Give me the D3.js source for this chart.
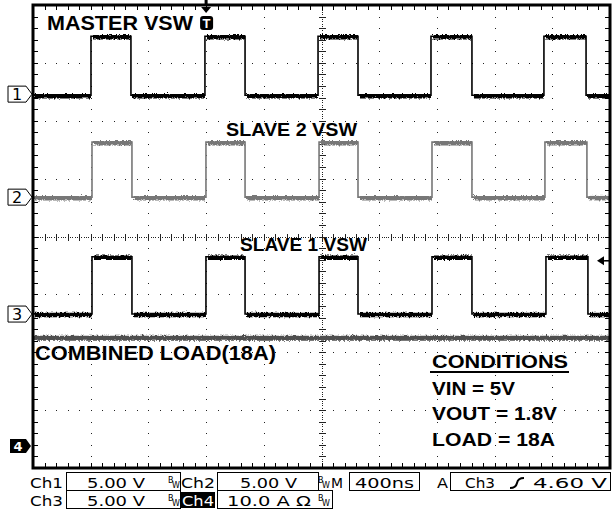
<!DOCTYPE html>
<html><head><meta charset="utf-8">
<script src="https://cdn.jsdelivr.net/npm/d3@7"></script>
<style>html,body{margin:0;padding:0;background:#fff;}svg{display:block;}</style>
</head><body><div id="chart"></div>
<script>
// ---------------- DATA ----------------
const timePerDivNs = 400;          // M 400ns
const hDivs = 10, vDivs = 8;
// channel 1 MASTER VSW (V)
const ch1RiseNs = [402, 1192, 1976, 2759, 3542];
const ch1FallNs = [679, 1470, 2253, 3043, 3834];
const ch1HighV = 5.0, ch1LowV = -0.1;
// channel 2 SLAVE 2 VSW (V)
const ch2RiseNs = [409, 1199, 1983, 2766, 3549];
const ch2FallNs = [686, 1470, 2253, 3043, 3840];
const ch2HighV = 4.75, ch2LowV = 0.0;
// channel 3 SLAVE 1 VSW (V)
const ch3RiseNs = [409, 1199, 1983, 2766, 3556];
const ch3FallNs = [686, 1470, 2253, 3043, 3847];
const ch3HighV = 4.95, ch3LowV = 0.0;
// channel 4 combined load current (A)
const ch4LoadA = 18.8;
// channel settings
const chNames = ["1", "2", "3", "4"];
const chOffsetDiv = [6.46, 4.68, 2.66, 0.38];
const chScale = [5, 5, 5, 10];     // V/div, V/div, V/div, A/div
const trigLevelV = 4.60, trigTimeNs = 1200;
// labels
const traceLabels = ["MASTER VSW", "SLAVE 2 VSW", "SLAVE 1 VSW", "COMBINED LOAD(18A)"];
const condTitle = "CONDITIONS";
const condLines = ["VIN = 5V", "VOUT = 1.8V", "LOAD = 18A"];
const row1Labels = ["Ch1", "5.00 V", "Ch2", "5.00 V", "M", "400ns", "A", "Ch3", "4.60 V"];
const row2Labels = ["Ch3", "5.00 V", "Ch4", "10.0 A \u03A9"];

// ---------------- LAYOUT ----------------
const W = 612, H = 515;
const L = 33, R = 610, T = 5, B = 468;
const svg = d3.select("#chart").append("svg").attr("width", W).attr("height", H);
svg.append("rect").attr("width", W).attr("height", H).attr("fill", "#fff");

const defs = svg.append("defs");
const f = defs.append("filter").attr("id", "fuzz").attr("filterUnits", "userSpaceOnUse")
  .attr("x", 0).attr("y", 0).attr("width", W).attr("height", H);
f.append("feTurbulence").attr("type", "turbulence").attr("baseFrequency", "0.9 0.5")
  .attr("numOctaves", 2).attr("seed", 7).attr("result", "n");
f.append("feDisplacementMap").attr("in", "SourceGraphic").attr("in2", "n")
  .attr("scale", 3).attr("xChannelSelector", "R").attr("yChannelSelector", "G");

const x = d3.scaleLinear().domain([0, hDivs * timePerDivNs]).range([L, R]);
const yDiv = d3.scaleLinear().domain([0, vDivs]).range([B, T]);
const divW = (R - L) / hDivs, divH = (B - T) / vDivs;

// ---- graticule ----
const g = svg.append("g");
const dotC = "#222";
for (let i = 1; i < hDivs; i++) {
  if (i === hDivs / 2) continue;
  const xx = Math.round(L + i * divW);
  for (let k = 1; k < vDivs * 5; k++) {
    g.append("rect").attr("x", xx).attr("y", Math.round(T + k * divH / 5)).attr("width", 1).attr("height", 1).attr("fill", dotC);
  }
}
for (let j = 1; j < vDivs; j++) {
  if (j === vDivs / 2) continue;
  const yy = Math.round(T + j * divH);
  for (let k = 1; k < hDivs * 5; k++) {
    g.append("rect").attr("x", Math.round(L + k * divW / 5)).attr("y", yy).attr("width", 1).attr("height", 1).attr("fill", dotC);
  }
}
const cx = Math.round(L + 5 * divW), cy = Math.round(T + 4 * divH);
for (let k = 1; k < vDivs * 25; k++) {
  g.append("rect").attr("x", cx).attr("y", Math.round(T + k * divH / 25)).attr("width", 1).attr("height", 1).attr("fill", dotC);
}
for (let k = 1; k < hDivs * 25; k++) {
  g.append("rect").attr("x", Math.round(L + k * divW / 25)).attr("y", cy).attr("width", 1).attr("height", 1).attr("fill", dotC);
}
for (let k = 1; k < vDivs * 5; k++) {
  g.append("rect").attr("x", cx - 3).attr("y", Math.round(T + k * divH / 5)).attr("width", 7).attr("height", 1).attr("fill", dotC);
}
for (let k = 1; k < hDivs * 5; k++) {
  g.append("rect").attr("x", Math.round(L + k * divW / 5)).attr("y", cy - 3).attr("width", 1).attr("height", 7).attr("fill", dotC);
}
for (let k = 1; k < hDivs * 5; k++) {
  const xx = Math.round(L + k * divW / 5);
  g.append("rect").attr("x", xx).attr("y", T).attr("width", 1).attr("height", 5).attr("fill", "#000");
  g.append("rect").attr("x", xx).attr("y", B - 5).attr("width", 1).attr("height", 5).attr("fill", "#000");
}
for (let k = 1; k < vDivs * 5; k++) {
  const yy = Math.round(T + k * divH / 5);
  g.append("rect").attr("x", L).attr("y", yy).attr("width", 5).attr("height", 1).attr("fill", "#000");
  g.append("rect").attr("x", R - 5).attr("y", yy).attr("width", 5).attr("height", 1).attr("fill", "#000");
}

// ---- traces ----
function chY(ci, v) { return yDiv(chOffsetDiv[ci] + v / chScale[ci]); }
function squarePts(rise, fall, hi, lo) {
  const pts = [[0, lo]];
  rise.forEach((r, i) => {
    pts.push([r, lo], [r, hi]);
    if (fall[i] !== undefined) pts.push([fall[i], hi], [fall[i], lo]);
  });
  pts.push([hDivs * timePerDivNs, pts[pts.length - 1][1]]);
  return pts;
}
const traces = [
  {ci: 0, pts: squarePts(ch1RiseNs, ch1FallNs, ch1HighV, ch1LowV), color: "#000"},
  {ci: 1, pts: squarePts(ch2RiseNs, ch2FallNs, ch2HighV, ch2LowV), color: "#777"},
  {ci: 2, pts: squarePts(ch3RiseNs, ch3FallNs, ch3HighV, ch3LowV), color: "#000"}
];
const tg = svg.append("g");
traces.forEach(tr => {
  const line = d3.line().x(d => x(d[0])).y(d => chY(tr.ci, d[1]));
  tg.append("path").attr("d", line(tr.pts)).attr("fill", "none").attr("stroke", tr.color).attr("stroke-width", 1.6);
  const pg = tg.append("g").attr("filter", "url(#fuzz)");
  for (let i = 0; i < tr.pts.length - 1; i++) {
    const a = tr.pts[i], b = tr.pts[i + 1];
    if (a[1] === b[1] && b[0] > a[0]) {
      pg.append("line").attr("x1", x(a[0]) + 1).attr("x2", x(b[0]) - 1)
        .attr("y1", chY(tr.ci, a[1])).attr("y2", chY(tr.ci, b[1]))
        .attr("stroke", tr.color).attr("stroke-width", 4.5);
    }
  }
});
tg.append("line").attr("x1", x(0)).attr("x2", x(hDivs * timePerDivNs))
  .attr("y1", chY(3, ch4LoadA)).attr("y2", chY(3, ch4LoadA))
  .attr("stroke", "#505050").attr("stroke-width", 5).attr("filter", "url(#fuzz)");

// border
svg.append("rect").attr("x", L).attr("y", T).attr("width", R - L).attr("height", B - T)
  .attr("fill", "none").attr("stroke", "#000").attr("stroke-width", 3);

// ---- channel markers ----
const mk = svg.append("g");
chNames.forEach((n, i) => {
  const yy = chY(i, 0);
  if (i < 3) {
    mk.append("path").attr("d", `M8,${yy - 8}H26L32,${yy}L26,${yy + 8}H8Z`)
      .attr("fill", "#fff").attr("stroke", "#000").attr("stroke-width", 1);
    mk.append("text").attr("x", 17).attr("y", yy + 6).attr("text-anchor", "middle")
      .attr("font-family", "DejaVu Sans").attr("font-size", 16).text(n);
  } else {
    mk.append("path").attr("d", `M10,${yy - 7}H26L31,${yy}L26,${yy + 7}H10Z`).attr("fill", "#000");
    mk.append("text").attr("x", 18).attr("y", yy + 5).attr("text-anchor", "middle").attr("fill", "#fff")
      .attr("font-family", "DejaVu Sans").attr("font-weight", "bold").attr("font-size", 13).text(n);
  }
});
const tx = x(trigTimeNs);
mk.append("rect").attr("x", tx - 1.5).attr("y", 0).attr("width", 3).attr("height", 4).attr("fill", "#000");
mk.append("path").attr("d", `M${tx - 5},7L${tx + 5},7L${tx},13Z`).attr("fill", "#000");
mk.append("rect").attr("x", tx - 6).attr("y", 16).attr("width", 13).attr("height", 14).attr("rx", 3).attr("fill", "#000");
mk.append("text").attr("x", tx + 0.5).attr("y", 28).attr("text-anchor", "middle").attr("fill", "#fff")
  .attr("font-family", "Liberation Sans").attr("font-weight", "bold").attr("font-size", 13).text("T");
const ty = chY(2, trigLevelV);
mk.append("path").attr("d", `M597,${ty}L604,${ty - 4.5}L604,${ty + 4.5}Z`).attr("fill", "#000");
mk.append("rect").attr("x", 603).attr("y", ty - 0.75).attr("width", 6).attr("height", 1.5).attr("fill", "#000");

// ---- labels ----
const lab = svg.append("g").attr("font-family", "Liberation Sans, Arial, sans-serif").attr("font-weight", "bold");
function bold(t, xx, yy, w, fs) {
  lab.append("text").attr("x", xx).attr("y", yy).attr("font-size", fs)
    .attr("textLength", w).attr("lengthAdjust", "spacingAndGlyphs").text(t);
}
bold(traceLabels[0], 47, 30, 146, 21);
bold(traceLabels[1], 226, 136, 131, 19);
bold(traceLabels[2], 240, 251, 127, 19);
bold(traceLabels[3], 35, 360, 241, 21);
bold(condTitle, 432, 368, 136, 19);
lab.append("rect").attr("x", 430).attr("y", 371).attr("width", 139).attr("height", 2).attr("fill", "#000");
bold(condLines[0], 432, 395, 83, 19);
bold(condLines[1], 432, 420, 125, 19);
bold(condLines[2], 432, 446, 123, 19);

// ---- status bar ----
const st = svg.append("g").attr("font-family", "DejaVu Sans, sans-serif").attr("font-size", 14.5);
function stext(t, xx, yy, w, fill) {
  st.append("text").attr("x", xx).attr("y", yy).attr("fill", fill || "#000")
    .attr("textLength", w).attr("lengthAdjust", "spacingAndGlyphs").text(t);
}
function sbox(x0, x1, y0, y1) {
  st.append("rect").attr("x", x0 + 0.5).attr("y", y0 + 0.5).attr("width", x1 - x0).attr("height", y1 - y0)
    .attr("fill", "none").attr("stroke", "#000").attr("stroke-width", 1);
}
function bw(xx, yy) {
  st.append("text").attr("x", xx).attr("y", yy - 5).attr("font-size", 8).text("B");
  st.append("text").attr("x", xx + 4).attr("y", yy).attr("font-size", 8).text("W");
}
const r1 = 488, r2 = 506;
stext(row1Labels[0], 30, r1, 33);
sbox(66, 180, 472, 490);
stext(row1Labels[1], 87, r1, 58);
bw(168, r1);
stext(row1Labels[2], 181, r1, 34);
sbox(217, 318, 472, 490);
stext(row1Labels[3], 240, r1, 57);
bw(318, r1);
stext(row1Labels[4], 331, r1, 12);
sbox(349, 419, 472, 490);
stext(row1Labels[5], 355, r1, 59);
stext(row1Labels[6], 437, r1, 11);
sbox(450, 610, 472, 490);
stext(row1Labels[7], 465, r1, 30);
st.append("path").attr("d", `M510,${r1}Q516,${r1} 517,${r1 - 5}T524,${r1 - 10}`).attr("fill", "none").attr("stroke", "#000").attr("stroke-width", 2);
stext(row1Labels[8], 533, r1, 74);

stext(row2Labels[0], 30, r2, 33);
sbox(66, 180, 490, 508);
stext(row2Labels[1], 87, r2, 58);
bw(168, r2);
st.append("rect").attr("x", 180).attr("y", 492).attr("width", 35).attr("height", 16).attr("fill", "#000");
stext(row2Labels[2], 182, r2, 32, "#fff");
sbox(217, 332, 490, 508);
stext(row2Labels[3], 227, r2, 84);
bw(318, r2);
</script></body></html>
